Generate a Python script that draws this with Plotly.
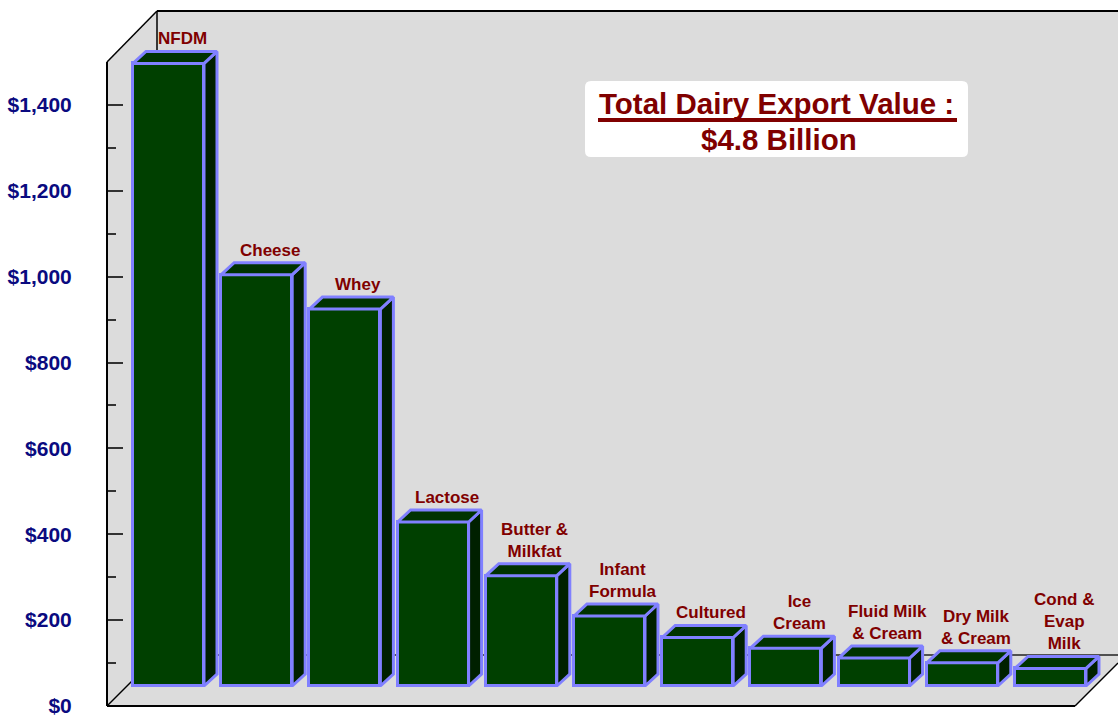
import plotly.graph_objects as go

# Export value by product (million US$)
categories = ["NFDM", "Cheese", "Whey", "Lactose", "Butter &<br>Milkfat",
              "Infant<br>Formula", "Cultured", "Ice<br>Cream",
              "Fluid Milk<br>& Cream", "Dry Milk<br>& Cream", "Cond &<br>Evap<br>Milk"]
values = [1450, 958, 878, 382, 257, 163, 113, 88, 65, 54, 41]
total_title = "Total Dairy Export Value :"
total_label = "$4.8 Billion"

W, H = 1118, 717
FONT = "Liberation Sans, Arial, sans-serif"
FRONT = "#004000"
SIDE = "#002000"
TOP = "#003300"
EDGE = "#8080FF"
WALL = "#DCDCDC"
DARK_RED = "#800000"

# pixel geometry of the pseudo-3D box
unit_px = 88.2            # distance between neighbouring bars
first_center_px = 168.5   # centre of the first bar's front face
bar_w = 71 / unit_px
px_per_val = 644 / 1500   # same vertical scale for the front axis and the bars
base_px = 686             # bar baseline (plane behind the front edge)
depth_dx = 13 / unit_px
depth_dy = 12 / px_per_val

x0 = -first_center_px / unit_px
x1 = x0 + W / unit_px
y0 = -(H - base_px) / px_per_val
y1 = y0 + H / px_per_val

idx = list(range(len(values)))


def px(xp, yp):
    return xp / W, 1 - yp / H


fig = go.Figure()

# front faces
fig.add_trace(go.Bar(
    x=idx, y=values, width=bar_w,
    marker=dict(color=FRONT, line=dict(color=EDGE, width=3)),
    hoverinfo="skip", showlegend=False,
))

# right side and top faces built from the same values
side_x, side_y, top_x, top_y = [], [], [], []
for i, v in zip(idx, values):
    r = i + bar_w / 2
    l = i - bar_w / 2
    side_x += [r, r + depth_dx, r + depth_dx, r, r, None]
    side_y += [0, depth_dy, v + depth_dy, v, 0, None]
    top_x += [l, l + depth_dx, r + depth_dx, r, l, None]
    top_y += [v, v + depth_dy, v + depth_dy, v, v, None]

fig.add_trace(go.Scatter(x=side_x, y=side_y, mode="lines", fill="toself",
                         fillcolor=SIDE, line=dict(color=EDGE, width=3),
                         hoverinfo="skip", showlegend=False))
fig.add_trace(go.Scatter(x=top_x, y=top_y, mode="lines", fill="toself",
                         fillcolor=TOP, line=dict(color=EDGE, width=3),
                         hoverinfo="skip", showlegend=False))

# carrier trace for the front value axis
fig.add_trace(go.Scatter(x=[None], y=[None], xaxis="x", yaxis="y2",
                         showlegend=False, hoverinfo="skip"))

# category labels above each bar
annotations = []
for i, v, c in zip(idx, values, categories):
    annotations.append(dict(
        x=i + depth_dx / 2, y=v + depth_dy, xref="x", yref="y",
        text=f"<b>{c}</b>", showarrow=False, xanchor="center", yanchor="bottom",
        xshift=7, yshift=1,
        font=dict(family=FONT, size=17, color=DARK_RED),
    ))

# total box text
annotations.append(dict(
    x=777 / W, y=1 - 104 / H, xref="paper", yref="paper",
    text=f"<b>{total_title}</b>", showarrow=False, xanchor="center", yanchor="middle",
    font=dict(family=FONT, size=29.5, color=DARK_RED),
))
annotations.append(dict(
    x=779 / W, y=1 - 139 / H, xref="paper", yref="paper",
    text=f"<b>{total_label}</b>", showarrow=False, xanchor="center", yanchor="middle",
    font=dict(family=FONT, size=29.5, color=DARK_RED),
))

shapes = []

# walls and floor
pts = [px(107, 62), px(157, 11), px(1118, 11), px(1118, 663), px(1075, 706), px(107, 706)]
path = "M " + " L ".join(f"{a},{b}" for a, b in pts) + " Z"
shapes.append(dict(type="path", path=path, xref="paper", yref="paper",
                   fillcolor=WALL, line=dict(width=0), layer="below"))


def seg(p, q, color="black", width=2, layer="below"):
    a = px(*p)
    b = px(*q)
    return dict(type="line", xref="paper", yref="paper", x0=a[0], y0=a[1],
                x1=b[0], y1=b[1], line=dict(color=color, width=width), layer=layer)


shapes += [
    seg((107, 62), (157, 11), width=1.5),
    seg((157, 11), (1118, 11), width=2),
    seg((157, 11), (157, 655), width=1.5),
    seg((157, 655), (1118, 655), color="#222222", width=1.5),
    seg((107, 706), (157, 656), width=1.5),
    seg((107, 706), (1075, 706), width=2),
    seg((1075, 706), (1118, 663), width=1.5),
]

# rounded white box behind the total
bx0, by0, bx1, by1, rr = 585, 81, 968, 157, 6
corners = [
    (bx0 + rr, by0), (bx1 - rr, by0), (bx1, by0 + rr), (bx1, by1 - rr),
    (bx1 - rr, by1), (bx0 + rr, by1), (bx0, by1 - rr), (bx0, by0 + rr),
]
c = [px(*p) for p in corners]
bpath = (f"M {c[0][0]},{c[0][1]} L {c[1][0]},{c[1][1]} "
         f"Q {px(bx1, by0)[0]},{px(bx1, by0)[1]} {c[2][0]},{c[2][1]} "
         f"L {c[3][0]},{c[3][1]} "
         f"Q {px(bx1, by1)[0]},{px(bx1, by1)[1]} {c[4][0]},{c[4][1]} "
         f"L {c[5][0]},{c[5][1]} "
         f"Q {px(bx0, by1)[0]},{px(bx0, by1)[1]} {c[6][0]},{c[6][1]} "
         f"L {c[7][0]},{c[7][1]} "
         f"Q {px(bx0, by0)[0]},{px(bx0, by0)[1]} {c[0][0]},{c[0][1]} Z")
shapes.append(dict(type="path", path=bpath, xref="paper", yref="paper",
                   fillcolor="white", line=dict(width=0), layer="above"))
# underline of the box heading
shapes.append(seg((598, 120), (957, 120), color=DARK_RED, width=4, layer="above"))

fig.update_layout(
    width=W, height=H,
    margin=dict(l=0, r=0, t=0, b=0, autoexpand=False),
    paper_bgcolor="white", plot_bgcolor="rgba(0,0,0,0)",
    showlegend=False,
    xaxis=dict(range=[x0, x1], visible=False, fixedrange=True, automargin=False),
    yaxis=dict(range=[y0, y1], visible=False, fixedrange=True, automargin=False),
    yaxis2=dict(
        range=[0, 1500], domain=[(H - 706) / H, (H - 62) / H],
        anchor="free", position=107 / W, side="left", automargin=False,
        showline=True, linecolor="black", linewidth=2,
        showgrid=False, zeroline=False,
        ticks="inside", ticklen=15, tickwidth=1.5, tickcolor="#333333",
        dtick=200, tickprefix="$", tickformat=",d",
        ticklabelstandoff=30, ticklabeloverflow="allow",
        minor=dict(ticks="inside", ticklen=8, tickwidth=1.5, tickcolor="#333333", dtick=100),
        tickfont=dict(family=FONT, size=21, color="#0A0A80", weight="bold"),
        fixedrange=True,
    ),
    shapes=shapes,
    annotations=annotations,
    bargap=0,
)

fig.write_html("out.html")
